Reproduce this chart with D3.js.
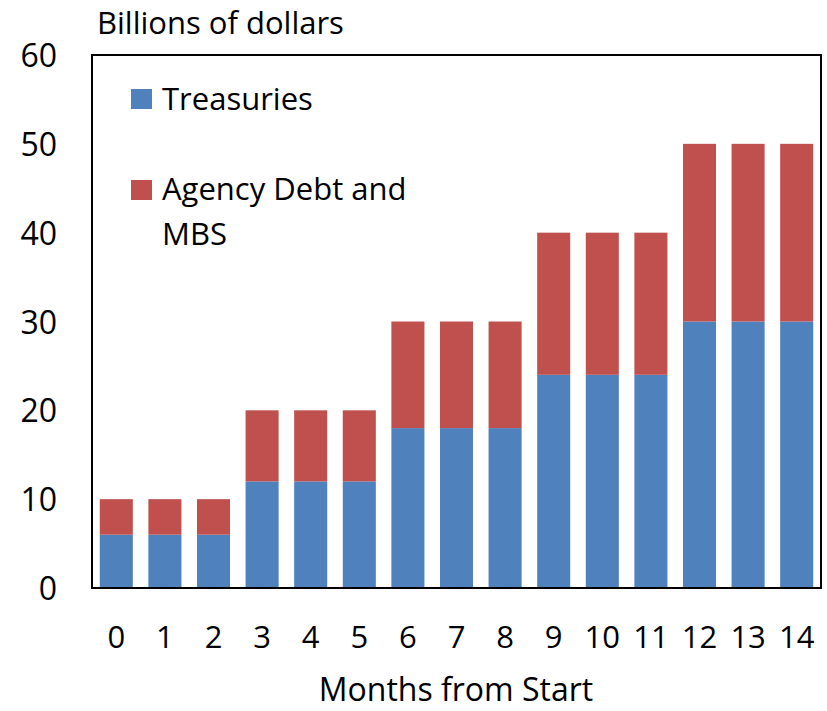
<!DOCTYPE html>
<html>
<head>
<meta charset="utf-8">
<script src="https://cdn.jsdelivr.net/npm/d3@7"></script>
<style>
  html, body { margin: 0; padding: 0; background: #fff; }
  text { font-family: "Open Sans", "Noto Sans", sans-serif; fill: #000; }
</style>
</head>
<body>
<svg id="chart" width="827" height="711"></svg>
<script>
// Monthly purchases, billions of dollars
const months = [0, 1, 2, 3, 4, 5, 6, 7, 8, 9, 10, 11, 12, 13, 14];
const treasuries = [6, 6, 6, 12, 12, 12, 18, 18, 18, 24, 24, 24, 30, 30, 30];
const agencyMbs = [4, 4, 4, 8, 8, 8, 12, 12, 12, 16, 16, 16, 20, 20, 20];
const yTicks = [0, 10, 20, 30, 40, 50, 60];
const seriesNames = ["Treasuries", "Agency Debt and MBS"];
const seriesColors = ["#4F81BD", "#C0504D"];

const svg = d3.select("#chart");
const margin = { left: 92, right: 6, top: 55, bottom: 123 };
const W = 827, H = 711;
const plotW = W - margin.left - margin.right;
const plotH = H - margin.top - margin.bottom;

const g = svg.append("g").attr("transform", `translate(${margin.left},${margin.top})`);

const x = d3.scaleBand().domain(months).range([0, plotW]).paddingInner(0.32).paddingOuter(0.16);
const y = d3.scaleLinear().domain([0, 60]).range([plotH, 0]);

const rows = months.map((m, i) => ({ month: m, t: treasuries[i], a: agencyMbs[i] }));
const stacked = d3.stack().keys(["t", "a"])(rows);

g.selectAll("g.series")
  .data(stacked)
  .join("g")
  .attr("class", "series")
  .attr("fill", (d, i) => seriesColors[i])
  .selectAll("rect")
  .data(d => d)
  .join("rect")
  .attr("x", d => x(d.data.month))
  .attr("width", x.bandwidth())
  .attr("y", d => y(d[1]))
  .attr("height", d => y(d[0]) - y(d[1]));

// Frame around the plot
g.append("rect")
  .attr("x", 0).attr("y", 0)
  .attr("width", plotW).attr("height", plotH)
  .attr("fill", "none").attr("stroke", "#000").attr("stroke-width", 2);

// Y axis labels
const yAxis = d3.axisLeft(y).tickValues(yTicks).tickSize(0).tickPadding(35);
const ya = g.append("g").call(yAxis);
ya.select(".domain").remove();
ya.selectAll("text").style("font-size", "32px").style("font-family", null).attr("dy", "0.36em");

// X axis labels
const xAxis = d3.axisBottom(x).tickSize(0);
const xa = g.append("g").attr("transform", `translate(0,${plotH})`).call(xAxis);
xa.select(".domain").remove();
xa.selectAll("text").style("font-size", "31px").style("font-family", null)
  .attr("dy", null).attr("y", 60);

// Titles
svg.append("text").attr("x", 97).attr("y", 34).style("font-size", "31px").text("Billions of dollars");
svg.append("text").attr("x", 456).attr("y", 701)
  .attr("text-anchor", "middle").style("font-size", "32px").text("Months from Start");

// Legend
const legend = svg.append("g");
legend.append("rect").attr("x", 131).attr("y", 89).attr("width", 21).attr("height", 20).attr("fill", seriesColors[0]);
legend.append("text").attr("x", 162).attr("y", 110).style("font-size", "31px").text(seriesNames[0]);
legend.append("rect").attr("x", 131).attr("y", 180).attr("width", 21).attr("height", 20).attr("fill", seriesColors[1]);
legend.append("text").attr("x", 162).attr("y", 200).style("font-size", "31px").text("Agency Debt and");
legend.append("text").attr("x", 162).attr("y", 245).style("font-size", "31px").text("MBS");
</script>
</body>
</html>
